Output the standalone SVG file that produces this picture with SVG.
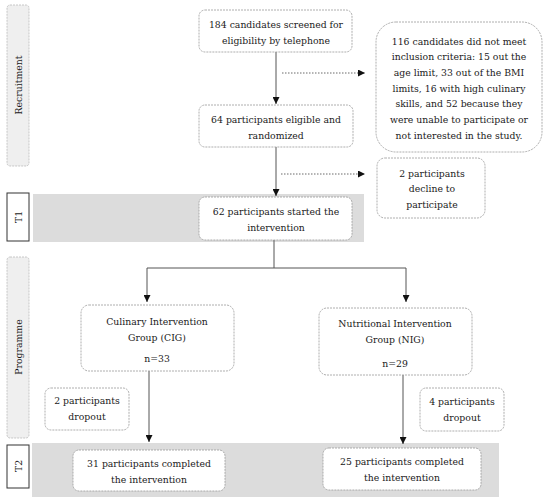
<svg xmlns="http://www.w3.org/2000/svg" width="550" height="502" viewBox="0 0 550 502">
<defs>
<style>
text{font-family:'DejaVu Serif','Liberation Serif',serif;font-size:9.3px;fill:#1a1a1a;text-anchor:middle}
.box{fill:#fff;stroke:#999;stroke-width:0.8;stroke-dasharray:2 1}
.side{fill:#efefef;stroke:#bbb;stroke-width:0.8;stroke-dasharray:2 1}
.tbox{fill:#fff;stroke:#333;stroke-width:1}
.band{fill:#dcdcdc}
.ln{fill:none;stroke:#555;stroke-width:1}
.dot{fill:none;stroke:#444;stroke-width:0.8;stroke-dasharray:1.5 1.5}
</style>
<marker id="ah" viewBox="0 0 8 8" refX="8" refY="4" markerWidth="7" markerHeight="7" markerUnits="userSpaceOnUse" orient="auto">
<path d="M0,0 L8,4 L0,8 z" fill="#111"/>
</marker>
</defs>
<rect class="band" x="33" y="194" width="331" height="48"/>
<rect class="band" x="32" y="443" width="467" height="54"/>
<g id="side-recruitment"><rect class="side" x="7" y="5" width="22" height="161" rx="3"/><text transform="translate(21.5,85) rotate(-90)">Recruitment</text></g>
<g id="side-t1"><rect class="tbox" x="7" y="193" width="22" height="48"/><text transform="translate(21.5,217) rotate(-90)">T1</text></g>
<g id="side-programme"><rect class="side" x="7" y="257" width="22" height="181" rx="3"/><text transform="translate(21.5,347) rotate(-90)">Programme</text></g>
<g id="side-t2"><rect class="tbox" x="7" y="445" width="22" height="43"/><text transform="translate(21.5,466) rotate(-90)">T2</text></g>
<g id="connectors">
<line class="ln" x1="276" y1="52" x2="276" y2="104" marker-end="url(#ah)"/>
<line class="dot" x1="282" y1="73" x2="365" y2="73" marker-end="url(#ah)"/>
<line class="ln" x1="276" y1="147" x2="276" y2="196" marker-end="url(#ah)"/>
<line class="dot" x1="281" y1="174" x2="365" y2="174" marker-end="url(#ah)"/>
<polyline class="ln" points="274,240 274,268 147,268 147,302" marker-end="url(#ah)"/>
<polyline class="ln" points="274,268 406,268 406,302" marker-end="url(#ah)"/>
<line class="ln" x1="149" y1="371" x2="149" y2="442" marker-end="url(#ah)"/>
<line class="ln" x1="403" y1="375" x2="403" y2="444" marker-end="url(#ah)"/>
</g>
<g id="n184"><rect class="box" x="199" y="10" width="153" height="42" rx="6"/><text x="276" y="27.5">184 candidates screened for</text><text x="276" y="43.5">eligibility by telephone</text></g>
<g id="n116"><rect class="box" x="376" y="22" width="166" height="130" rx="20"/><text x="459" y="44.5">116 candidates did not meet</text><text x="459" y="60">inclusion criteria: 15 out the</text><text x="459" y="75.5">age limit, 33 out of the BMI</text><text x="459" y="91.5">limits, 16 with high culinary</text><text x="459" y="107">skills, and 52 because they</text><text x="459" y="122.5">were unable to participate or</text><text x="459" y="138.5">not interested in the study.</text></g>
<g id="n64"><rect class="box" x="199" y="105" width="154" height="42" rx="6"/><text x="276" y="122.5">64 participants eligible and</text><text x="276" y="138.5">randomized</text></g>
<g id="n2decline"><rect class="box" x="377" y="158" width="108" height="60" rx="8"/><text x="432" y="176.5">2 participants</text><text x="432" y="192">decline to</text><text x="432" y="207.5">participate</text></g>
<g id="n62"><rect class="box" x="199" y="197" width="153" height="43" rx="6"/><text x="276" y="214.5">62 participants started the</text><text x="276" y="230.5">intervention</text></g>
<g id="nCIG"><rect class="box" x="81" y="305" width="153" height="66" rx="8"/><text x="157" y="324.5">Culinary Intervention</text><text x="157" y="340.5">Group (CIG)</text><text x="157" y="361.5">n=33</text></g>
<g id="nNIG"><rect class="box" x="319" y="308" width="153" height="67" rx="8"/><text x="395" y="326.5">Nutritional Intervention</text><text x="395" y="342.5">Group (NIG)</text><text x="395" y="366.5">n=29</text></g>
<g id="nDrop2"><rect class="box" x="45" y="388" width="84" height="42" rx="6"/><text x="87" y="403.5">2 participants</text><text x="87" y="419.5">dropout</text></g>
<g id="nDrop4"><rect class="box" x="420" y="388" width="84" height="43" rx="6"/><text x="462" y="404.5">4 participants</text><text x="462" y="420.5">dropout</text></g>
<g id="n31"><rect class="box" x="73" y="450" width="152" height="41" rx="6"/><text x="149" y="466.5">31 participants completed</text><text x="149" y="482.5">the intervention</text></g>
<g id="n25"><rect class="box" x="323" y="448" width="158" height="42" rx="6"/><text x="402" y="464.5">25 participants completed</text><text x="402" y="480.5">the intervention</text></g>
</svg>
